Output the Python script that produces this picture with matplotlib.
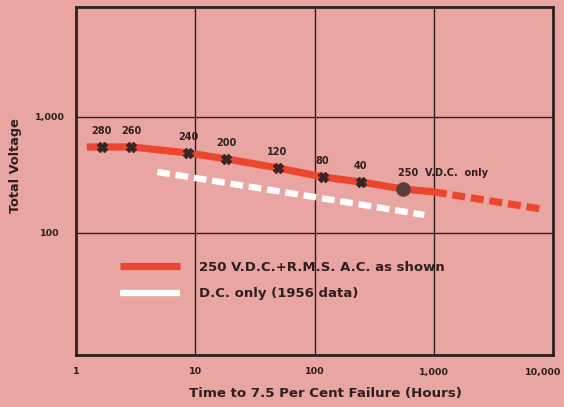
import matplotlib.pyplot as plt
from matplotlib.lines import Line2D
from matplotlib.ticker import FixedLocator, NullLocator
from matplotlib.transforms import ScaledTranslation

# dados (horas ate 7.5% de falha x tensao total)
horas_ac = [1.64, 2.92, 8.7, 18.2, 49, 117, 244]
tensao_ac = [551, 551, 489, 435, 364, 304, 275]
rotulos_ac = ['280', '260', '240', '200', '120', '80', '40']

# linha vermelha continua (inclui ponto so DC e fim em 1000 h)
horas_linha = [1.23, 1.64, 2.92, 8.7, 18.2, 49, 117, 244, 557, 1000]
tensao_linha = [551, 551, 551, 489, 435, 364, 304, 275, 239, 226]

# extrapolacao tracejada
horas_extra = [1000, 7950]
tensao_extra = [226, 161]

# ponto 250 V.D.C. only
horas_dc_ponto = [557]
tensao_dc_ponto = [239]

# dados de 1956 (so DC)
horas_1956 = [4.8, 100, 834]
tensao_1956 = [336, 204, 143]

xticks = [1, 10, 100, 1000, 10000]
xtick_labels = ['1', '10', '100', '1,000', '10,000']
yticks = [100, 1000]
ytick_labels = ['100', '1,000']

fundo = '#e9a5a2'
vermelho = '#ea472e'
escuro = '#2e1f1f'

fig = plt.figure(figsize=(5.64, 4.07), dpi=100, facecolor=fundo)
ax = fig.add_axes([76 / 564, 1 - 355 / 407, 477 / 564, 348 / 407])
ax.set_facecolor(fundo)
ax.set_xscale('log')
ax.set_yscale('log')
ax.set_xlim(1, 10000)
ax.set_ylim(10 ** 0.948, 10 ** 3.948)

# grade so nas decadas
for x in [10, 100, 1000]:
    ax.axvline(x, color=escuro, lw=1.0, zorder=1)
for y in yticks:
    ax.axhline(y, color=escuro, lw=1.0, zorder=1)

ax.plot(horas_1956, tensao_1956, color='white', lw=4.6, dashes=(2.0, 0.9),
        solid_capstyle='butt', dash_capstyle='butt', zorder=2)
ax.plot(horas_linha, tensao_linha, color=vermelho, lw=5.2, solid_capstyle='butt',
        zorder=3)
ax.plot(horas_extra, tensao_extra, color=vermelho, lw=5.2, dashes=(1.8, 0.8),
        dash_capstyle='butt', zorder=3)
ax.plot(horas_ac, tensao_ac, linestyle='none', marker='X', markersize=7,
        color='#3b2424', zorder=4)
ax.plot(horas_dc_ponto, tensao_dc_ponto, linestyle='none', marker='o',
        markersize=9.5, color='#5a3c3c', zorder=4)

for h, v, r in zip(horas_ac, tensao_ac, rotulos_ac):
    ax.annotate(r, (h, v), xytext=(0, 8), textcoords='offset points',
                ha='center', va='bottom', fontsize=7, fontweight='bold', color=escuro)
ax.annotate('250  V.D.C.  only', (horas_dc_ponto[0], tensao_dc_ponto[0]),
            xytext=(-4, 8), textcoords='offset points', ha='left', va='bottom',
            fontsize=7, fontweight='bold', color=escuro)

# eixos
ax.xaxis.set_major_locator(FixedLocator(xticks))
ax.xaxis.set_minor_locator(NullLocator())
ax.set_xticklabels(xtick_labels)
ax.yaxis.set_major_locator(FixedLocator(yticks))
ax.yaxis.set_minor_locator(NullLocator())
ax.set_yticklabels(ytick_labels)
ax.tick_params(axis='both', length=0, labelsize=6.8, labelcolor=escuro)
ax.tick_params(axis='x', pad=9)
ax.tick_params(axis='y', pad=19)
for t in ax.get_yticklabels():
    t.set_horizontalalignment('center')
for t in ax.get_xticklabels() + ax.get_yticklabels():
    t.set_fontweight('bold')
# o ultimo rotulo fica um pouco para dentro
ultimo = ax.get_xticklabels()[-1]
ultimo.set_transform(ultimo.get_transform() + ScaledTranslation(-10 / 100, 0, fig.dpi_scale_trans))

for s in ax.spines.values():
    s.set_color(escuro)
    s.set_linewidth(2)

fig.text(16 / 564, 1 - 166 / 407, 'Total Voltage', rotation=90, ha='center',
         va='center', fontsize=9.3, fontweight='bold', color=escuro)
fig.text(325 / 564, 1 - 393 / 407, 'Time to 7.5 Per Cent Failure (Hours)',
         ha='center', va='center', fontsize=9.6, fontweight='bold', color=escuro)

handles = [Line2D([], [], color=vermelho, lw=5.2, solid_capstyle='butt'),
           Line2D([], [], color='white', lw=4.6, solid_capstyle='butt')]
labels = ['250 V.D.C.+R.M.S. A.C. as shown', 'D.C. only (1956 data)']
leg = ax.legend(handles, labels, loc='center left',
                bbox_to_anchor=(44 / 477, (355 - 280.5) / 348), frameon=False,
                borderpad=0, borderaxespad=0, handlelength=4.55, handletextpad=1.45,
                labelspacing=1.05, prop={'size': 9.5, 'weight': 'bold'})
for t in leg.get_texts():
    t.set_color(escuro)

fig.savefig('out.png', dpi=100, facecolor=fundo)
